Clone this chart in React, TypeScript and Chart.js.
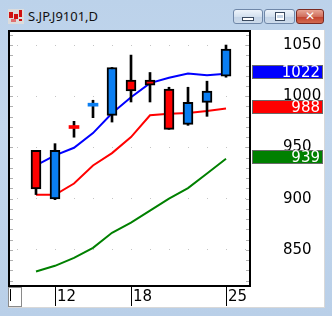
import React, { useEffect, useRef } from 'react';
import { Chart, registerables } from 'chart.js';

Chart.register(...registerables);

// ---- data ----
const dates = ['11', '12', '13', '14', '15', '18', '19', '20', '21', '22', '25'];
const shownDates = ['12', '18', '25'];
const opens = [947.1, 899.8, 968.9, 990.3, 981.4, 1015.7, 1015.7, 1006.9, 972.6, 994.0, 1019.6];
const closes = [909.6, 947.1, 968.5, 990.7, 1028.1, 1005.2, 1010.8, 967.7, 994.1, 1005.0, 1046.0];
const highs = [947.1, 953.7, 975.5, 996.1, 1028.1, 1040.2, 1023.2, 1008.8, 1008.8, 1014.7, 1050.0];
const lows = [904.0, 899.0, 960.0, 979.1, 974.8, 994.4, 994.4, 967.7, 971.6, 980.4, 1018.6];
const maShort = [932.4, 942.2, 949.7, 964.0, 983.4, 999.0, 1012.8, 1018.0, 1022.3, 1020.6, 1022];
const maMid = [903.7, 903.7, 914.8, 932.4, 944.5, 960.1, 981.4, 983.0, 983.7, 985.6, 988];
const maLong = [828.8, 834.4, 842.2, 852.0, 866.7, 876.5, 888.3, 900.0, 910.3, 924.6, 939];
const yTicks = [850, 900, 950, 1000, 1050];
const title = 'S.JP.J9101,D';

const UP = '#0a7ef2';
const DOWN = '#ff0000';

const framePlugin = {
  id: 'frame',
  afterDatasetsDraw(chart: any) {
    const { ctx, chartArea, scales } = chart;
    const y = scales.y;
    ctx.save();
    ctx.fillStyle = '#b0b0b0';
    for (let v = 820; v <= 1060; v += 10) {
      const py = Math.round(y.getPixelForValue(v));
      ctx.fillRect(chartArea.left + 2, py, 3, 1);
      ctx.fillRect(chartArea.right - 4, py, 3, 1);
    }
    ctx.fillStyle = '#000';
    const l = chartArea.left, t = chartArea.top, r = chartArea.right, b = chartArea.bottom;
    ctx.fillRect(l, t, 2, b - t + 1);
    ctx.fillRect(l, t, r - l + 1, 2);
    ctx.fillRect(r - 1, t, 2, b - t + 1);
    ctx.fillRect(l, b - 1, r - l + 1, 2);
    ctx.restore();
  },
  afterDraw(chart: any) {
    const { ctx, chartArea, scales, width } = chart;
    const y = scales.y;
    const tags: [number[], string][] = [
      [maShort, '#0000ff'],
      [maMid, '#ff0000'],
      [maLong, '#008000'],
    ];
    ctx.save();
    for (const [arr, color] of tags) {
      const v = arr[arr.length - 1];
      const py = Math.round(y.getPixelForValue(v) - 1.5);
      const x0 = chartArea.right + 2;
      const w = width - 1 - x0;
      ctx.fillStyle = color;
      ctx.fillRect(x0, py - 7, w, 14);
      ctx.strokeStyle = '#6a6a6a';
      ctx.lineWidth = 1;
      ctx.strokeRect(x0 + 0.5, py - 6.5, w - 1, 13);
      ctx.fillStyle = '#ffffff';
      ctx.font = '15px "DejaVu Sans"';
      ctx.textAlign = 'right';
      ctx.textBaseline = 'middle';
      ctx.fillText(String(Math.round(v)), width - 4, py + 1);
    }
    ctx.restore();
  },
};

export default function App() {
  const ref = useRef<HTMLCanvasElement>(null);
  useEffect(() => {
    Chart.defaults.font.family = '"DejaVu Sans"';
    Chart.defaults.font.size = 15;
    const isDoji = (i: number) => Math.abs(opens[i] - closes[i]) < 1.5;
    const chart = new Chart(ref.current as HTMLCanvasElement, {
      type: 'bar',
      data: {
        datasets: [
          {
            type: 'line',
            data: maLong.map((v, i) => ({ x: i, y: v })),
            borderColor: '#008000',
            borderWidth: 2,
            pointRadius: 0,
            order: 5,
          } as any,
          {
            type: 'line',
            data: maMid.map((v, i) => ({ x: i, y: v })),
            borderColor: '#ff0000',
            borderWidth: 2,
            pointRadius: 0,
            order: 4,
          } as any,
          {
            type: 'line',
            data: maShort.map((v, i) => ({ x: i, y: v })),
            borderColor: '#0000ff',
            borderWidth: 2,
            pointRadius: 0,
            order: 3,
          } as any,
          {
            type: 'bar',
            data: dates.map((_, i) => ({ x: i, y: [lows[i], highs[i]] })),
            backgroundColor: '#000',
            borderWidth: 0,
            barThickness: 2,
            grouped: false,
            order: 2,
          } as any,
          {
            type: 'bar',
            data: dates.map((_, i) => ({ x: i, y: [opens[i], closes[i]] })),
            backgroundColor: (c: any) => (closes[c.dataIndex] >= opens[c.dataIndex] ? UP : DOWN),
            borderColor: '#000',
            borderWidth: (c: any) => (isDoji(c.dataIndex) ? 0 : 2),
            borderSkipped: false,
            minBarLength: 3,
            barThickness: 10,
            grouped: false,
            order: 1,
          } as any,
        ],
      },
      options: {
        animation: false,
        responsive: false,
        events: [],
        layout: { padding: 0 },
        plugins: { legend: { display: false }, tooltip: { enabled: false } },
        scales: {
          x: {
            type: 'linear',
            position: 'bottom',
            offset: false,
            bounds: 'data',
            min: -1.474,
            max: 11.263,
            afterBuildTicks: (s: any) => {
              s.ticks = shownDates.map((d) => ({ value: dates.indexOf(d) }));
            },
            afterFit: (s: any) => {
              s.height = 20;
              s.paddingLeft = 0;
              s.paddingRight = 0;
            },
            ticks: {
              callback: (v: any) => dates[v as number],
              align: 'start',
              labelOffset: 2,
              padding: -18,
              color: '#000',
              maxRotation: 0,
              autoSkip: false,
              font: { size: 15 },
            },
            grid: {
              offset: false,
              drawOnChartArea: false,
              drawTicks: true,
              tickLength: 20,
              tickColor: '#000',
              tickWidth: 1,
            },
            border: { display: false },
          },
          y: {
            type: 'linear',
            position: 'right',
            bounds: 'data',
            min: 814.7,
            max: 1064.7,
            afterBuildTicks: (s: any) => {
              s.ticks = yTicks.map((v) => ({ value: v }));
            },
            afterFit: (s: any) => {
              s.width = 74;
              s.paddingTop = 0;
              s.paddingBottom = 0;
            },
            ticks: {
              callback: (v: any) => String(v),
              color: '#000',
              crossAlign: 'near',
              padding: 33,
              font: { size: 15 },
            },
            grid: {
              color: '#c4c4c4',
              drawTicks: false,
              lineWidth: 1,
            },
            border: { display: false, dash: [1, 18], dashOffset: 10 },
          },
        },
      },
      plugins: [framePlugin],
    } as any);
    return () => chart.destroy();
  }, []);

  const btn: React.CSSProperties = {
    position: 'absolute',
    top: 9,
    height: 15,
    boxSizing: 'border-box',
    border: '1px solid #6f87a8',
    borderRadius: 3,
    background: 'linear-gradient(#eef4fb, #d4e1ef 50%, #c2d3e7 51%, #cddbeb)',
  };

  return (
    <div
      style={{
        position: 'fixed',
        left: 0,
        top: 0,
        width: 332,
        height: 316,
        overflow: 'hidden',
        background: 'linear-gradient(180deg, #bcd2ea 0%, #c3d7ed 40%, #b9cfe8 100%)',
        fontFamily: '"Noto Sans", sans-serif',
      }}
    >
      <div style={{ position: 'absolute', left: 8, top: 9, width: 16, height: 15, background: '#dcdcdc' }}>
        <div style={{ position: 'absolute', left: 1, top: 3, width: 4, height: 6, background: '#d01010' }} />
        <div style={{ position: 'absolute', left: 6, top: 5, width: 4, height: 5, background: '#d01010' }} />
        <div style={{ position: 'absolute', left: 11, top: 1, width: 3, height: 7, background: '#d01010' }} />
        <div style={{ position: 'absolute', left: 11, top: 10, width: 3, height: 2, background: '#d01010' }} />
        <div style={{ position: 'absolute', left: 3, top: 10, width: 5, height: 3, background: '#e07070' }} />
      </div>
      <div
        style={{
          position: 'absolute',
          left: 28,
          top: 6,
          fontSize: 13,
          lineHeight: '20px',
          color: '#111',
          whiteSpace: 'nowrap',
        }}
      >
        {title}
      </div>
      <div style={{ ...btn, left: 233, width: 30 }}>
        <div style={{ position: 'absolute', left: 8, top: 7, width: 12, height: 4, boxSizing: 'border-box', border: '1px solid #3a4a60', background: '#fff' }} />
      </div>
      <div style={{ ...btn, left: 264, width: 31 }}>
        <div style={{ position: 'absolute', left: 10, top: 2, width: 10, height: 9, boxSizing: 'border-box', border: '1px solid #3a4a60', background: '#fff' }}>
          <div style={{ position: 'absolute', left: 1, top: 2, width: 6, height: 3, background: '#c8d6e6' }} />
        </div>
      </div>
      <div
        style={{
          ...btn,
          left: 296,
          width: 28,
          border: '1px solid #7a2a22',
          background: 'linear-gradient(#e8a595, #d0705e 50%, #c2402c 51%, #d26a50)',
          color: '#fff',
          fontSize: 12,
          fontWeight: 'bold',
          textAlign: 'center',
          lineHeight: '13px',
          fontFamily: '"DejaVu Sans", sans-serif',
        }}
      >
        ✕
      </div>
      <div
        style={{
          position: 'absolute',
          left: 8,
          top: 30,
          width: 317,
          height: 278,
          boxSizing: 'border-box',
          background: '#fff',
          borderRight: '1px solid #d8d8d8',
          borderBottom: '1px solid #d8d8d8',
        }}
      >
        <canvas ref={ref} width={316} height={276} style={{ display: 'block' }} />
        <div
          style={{
            position: 'absolute',
            left: 0,
            top: 257,
            width: 14,
            height: 20,
            boxSizing: 'border-box',
            border: '1px solid #8a8a8a',
            background: '#fff',
          }}
        >
          <div style={{ position: 'absolute', left: 1, top: 1, width: 1, height: 12, background: '#000' }} />
        </div>
      </div>
    </div>
  );
}
